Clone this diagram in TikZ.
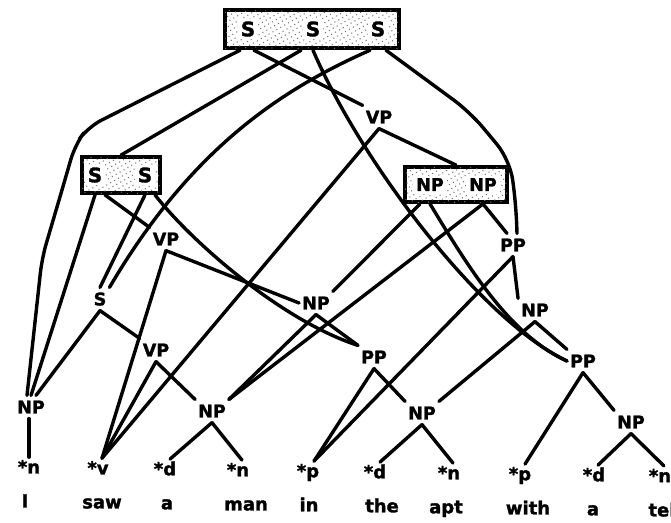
\documentclass[tikz,border=0pt]{standalone}
\usepackage{fontspec}
\usetikzlibrary{patterns.meta}
\newfontfamily\heavy{DejaVu Sans Bold}[FakeBold=1.6]
\pgfdeclarelayer{front}
\pgfsetlayers{main,front}
\tikzset{
  edge/.style={line width=3.4pt, line cap=round, line join=round},
  cat/.style={font=\heavy\fontsize{17.5}{17.5}\selectfont, text height=12.8pt,
    text depth=0pt, inner xsep=3pt, inner ysep=5pt},
  pre/.style={font=\heavy\fontsize{18}{18}\selectfont, anchor=base,
    text height=13pt, text depth=0pt, inner xsep=3pt, inner ysep=3pt},
  word/.style={font=\heavy\fontsize{18}{18}\selectfont, anchor=base},
  packbox/.style={draw, line width=3.8pt, fill=white, inner sep=0pt,
    postaction={pattern={Dots[distance=4.5pt, radius=0.75pt, angle=30]},
      pattern color=black!55}},
  alt/.style={font=\heavy\fontsize{20}{20}\selectfont, text height=14.6pt,
    text depth=0pt, inner xsep=3pt, inner ysep=0pt},
}
\begin{document}
\begin{tikzpicture}[x=1pt,y=-1pt]
\useasboundingbox (0,0) rectangle (671,522);
\clip (0,0) rectangle (671,522);

% packed nodes: boxes holding their alternatives
\begin{pgfonlayer}{front}
  \node[packbox, line width=4.5pt, minimum width=174pt, minimum height=38pt] (spack) at (312,29) {};
  \node[alt, fill=white, minimum height=20pt] (t1) at (248,29) {S};
  \node[alt, fill=white, minimum height=20pt] (t2) at (313,29) {S};
  \node[alt, fill=white, minimum height=20pt] (t3) at (378,29) {S};

  \node[packbox, minimum width=78pt, minimum height=36pt] (sspack) at (121,175) {};
  \node[alt, fill=white, minimum height=20pt] (ss1) at (95,175) {S};
  \node[alt, fill=white, minimum height=20pt] (ss2) at (145,175) {S};

  \node[packbox, minimum width=102pt, minimum height=35pt] (nppack) at (456,184.5) {};
  \node[alt, fill=white, font=\heavy\fontsize{17.5}{17.5}\selectfont, text height=12.8pt, minimum height=18pt] (np1) at (430,184.5) {NP};
  \node[alt, fill=white, font=\heavy\fontsize{17.5}{17.5}\selectfont, text height=12.8pt, minimum height=18pt] (np2) at (483,184.5) {NP};
\end{pgfonlayer}

% attachment points on the lower edges of the packed boxes
\coordinate (t1a) at (t1 |- spack.south);
\coordinate (t2a) at (t2 |- spack.south);
\coordinate (t3a) at (t3 |- spack.south);
\coordinate (ss1a) at (ss1 |- sspack.south);
\coordinate (ss2a) at (ss2 |- sspack.south);
\coordinate (np1a) at (np1 |- nppack.south);
\coordinate (np2a) at (np2 |- nppack.south);

% categories
\node[cat] (vpA) at (379,117) {VP};
\node[cat] (vpB) at (166,239) {VP};
\node[cat] (smid) at (100,299) {S};
\node[cat] (vpC) at (156,350) {VP};
\node[cat] (npI) at (31,407) {NP};
\node[cat] (npman) at (212,411) {NP};
\node[cat] (npa) at (316,303) {NP};
\node[cat] (ppa) at (374,357) {PP};
\node[cat] (npapt) at (422,413) {NP};
\node[cat] (ppb) at (513,245) {PP};
\node[cat] (npb) at (535,310) {NP};
\node[cat] (ppc) at (583,361) {PP};
\node[cat] (nptel) at (631,422) {NP};

% preterminals
\node[pre] (p1) at (29,473.4) {*n};
\node[pre] (p2) at (98,474.4) {*v};
\node[pre] (p3) at (165,475.3) {*d};
\node[pre] (p4) at (238,476.3) {*n};
\node[pre] (p5) at (308,477.3) {*p};
\node[pre] (p6) at (375,478.3) {*d};
\node[pre] (p7) at (449,479.3) {*n};
\node[pre] (p8) at (520,480.3) {*p};
\node[pre] (p9) at (594,481.3) {*d};
\node[pre] (p10) at (660,482.2) {*n};

% words
\node[word] (w1) at (25,507.4) {I};
\node[word] (w2) at (102,508.4) {saw};
\node[word] (w3) at (167,509.3) {a};
\node[word] (w4) at (246,510.4) {man};
\node[word] (w5) at (309,511.3) {in};
\node[word] (w6) at (382,512.3) {the};
\node[word] (w7) at (446,513.3) {apt};
\node[word] (w8) at (528,514.4) {with};
\node[word] (w9) at (593,515.3) {a};
\node[word] (w10) at (662,516.4) {tel};

% top packed S
\draw[edge, rounded corners=15pt] ([xshift=-8pt]t1a) -- (88,127) -- (75,145) -- (62,190) -- (42,258) -- ([xshift=-4pt]npI.north);
\draw[edge] ([xshift=6pt]t1a) -- (vpA.north west);
\draw[edge] ([xshift=-12pt]t2a) -- (sspack.north);
\draw[edge] (t2a) .. controls (360,160) and (480,320) .. (ppc.west);
\draw[edge] ([xshift=-8pt]t3a) .. controls (280,90) and (190,150) .. (smid.north east);
\draw[edge, rounded corners=20pt] ([xshift=8pt]t3a) -- (470,112) -- (510,160) -- (516,205) -- ([xshift=4pt]ppb.north);

% packed S over "I saw a man in the apt"
\draw[edge] (ss1a) -- (npI.north);
\draw[edge] ([xshift=10pt]ss1a) -- (vpB.north west);
\draw[edge] (ss2a) -- (smid.north);
\draw[edge] ([xshift=10pt]ss2a) .. controls (190,240) and (280,320) .. (ppa.north west);

% packed NP over "a man in the apt with a tel"
\draw[edge] ([xshift=-10pt]np1a) -- (npa.north east);
\draw[edge] (np1a) .. controls (470,270) and (510,335) .. (ppc.west);
\draw[edge] (np2a) -- (npman.north east);
\draw[edge] (np2a) -- ([xshift=-6pt]ppb.north);

% verb phrases
\draw[edge] (vpA.south) -- ([xshift=4pt]p2.north);
\draw[edge] (vpA.south) -- (nppack.north);
\draw[edge] (vpB.south) -- ([xshift=4pt]p2.north);
\draw[edge] (vpB.south) -- (npa.west);
\draw[edge] (vpC.south) -- ([xshift=4pt]p2.north);
\draw[edge] (vpC.south) -- (npman.north west);

% S over "I saw a man"
\draw[edge] (smid.south) -- ([xshift=5pt]npI.north);
\draw[edge] (smid.south) -- (vpC.north west);

% noun and prepositional phrases
\draw[edge] (npI.south -| p1.north) -- (p1.north);
\draw[edge] (npman.south) -- ([xshift=5pt]p3.north);
\draw[edge] (npman.south) -- ([xshift=4pt]p4.north);
\draw[edge] (npa.south) -- (npman.north east);
\draw[edge] (npa.south) -- (ppa.north west);
\draw[edge] (ppa.south) -- ([xshift=6pt]p5.north);
\draw[edge] (ppa.south) -- (npapt.north west);
\draw[edge] (ppb.south) -- ([xshift=6pt]p5.north);
\draw[edge] (ppb.south) -- (npb.north west);
\draw[edge] (npb.south) -- (npapt.north east);
\draw[edge] (npb.south) -- (ppc.north west);
\draw[edge] (ppc.south) -- ([xshift=5pt]p8.north);
\draw[edge] (ppc.south) -- (nptel.north west);
\draw[edge] (npapt.south) -- ([xshift=5pt]p6.north);
\draw[edge] (npapt.south) -- ([xshift=4pt]p7.north);
\draw[edge] (nptel.south) -- ([xshift=4pt]p9.north);
\draw[edge] (nptel.south) -- ([xshift=4pt]p10.north);
\end{tikzpicture}
\end{document}
